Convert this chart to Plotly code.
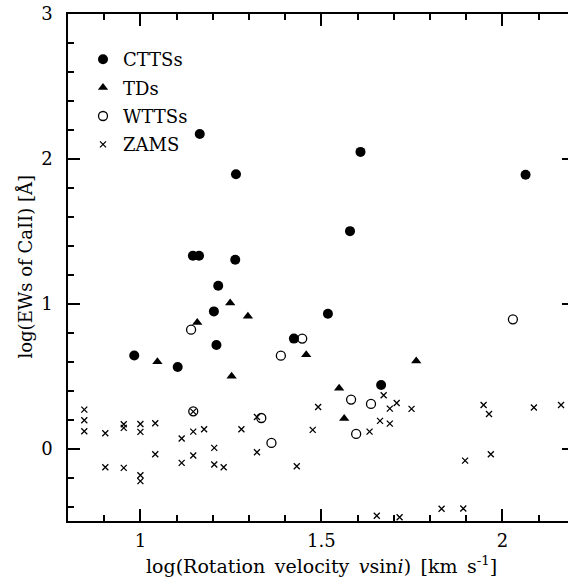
import plotly.graph_objects as go

# ---- data (log v sini, log EW CaII) ----
ctts_x = [0.983, 1.103, 1.145, 1.162, 1.164, 1.203, 1.210, 1.215, 1.262, 1.264,
          1.424, 1.518, 1.579, 1.608, 1.665, 2.064]
ctts_y = [0.642, 0.563, 1.331, 1.331, 2.172, 0.947, 0.715, 1.124, 1.303, 1.894,
          0.759, 0.931, 1.501, 2.048, 0.439, 1.890]

td_x = [1.047, 1.157, 1.248, 1.252, 1.297, 1.458, 1.549, 1.563, 1.762]
td_y = [0.600, 0.871, 1.005, 0.499, 0.913, 0.648, 0.416, 0.207, 0.605]

wtts_x = [1.140, 1.146, 1.334, 1.362, 1.388, 1.447, 1.582, 1.596, 1.637, 2.029]
wtts_y = [0.821, 0.257, 0.211, 0.039, 0.641, 0.759, 0.338, 0.101, 0.308, 0.892]

zams_x = [0.845, 0.845, 0.845, 0.903, 0.903, 0.954, 0.954, 0.954, 1.000, 1.000,
          1.000, 1.000, 1.041, 1.041, 1.114, 1.114, 1.146, 1.146, 1.146, 1.176,
          1.204, 1.204, 1.230, 1.279, 1.322, 1.322, 1.432, 1.476, 1.491, 1.633,
          1.653, 1.662, 1.672, 1.689, 1.689, 1.708, 1.716, 1.749, 1.832, 1.892,
          1.897, 1.948, 1.963, 1.968, 2.087, 2.162]
zams_y = [0.269, 0.195, 0.119, 0.106, -0.129, 0.168, 0.143, -0.133, 0.170, 0.115,
          -0.184, -0.225, 0.175, -0.039, 0.069, -0.099, 0.117, -0.048, 0.255, 0.133,
          0.005, -0.110, -0.129, 0.133, 0.218, -0.025, -0.122, 0.129, 0.287, 0.117,
          -0.464, 0.191, 0.368, 0.276, 0.172, 0.315, -0.474, 0.274, -0.416, -0.414,
          -0.083, 0.301, 0.239, -0.039, 0.283, 0.301]

x_ticks = [1, 1.5, 2]
x_tick_labels = ["1", "1.5", "2"]
y_ticks = [0, 1, 2, 3]
y_tick_labels = ["0", "1", "2", "3"]

FONT = "DejaVu Serif"
W, H = 568, 585
L, R, T, B = 68, 0, 14, 64

fig = go.Figure()
fig.add_trace(go.Scatter(x=ctts_x, y=ctts_y, mode="markers", name="CTTSs",
                         legendgroup="a",
                         marker=dict(symbol="circle", size=10, color="black")))
fig.add_trace(go.Scatter(x=td_x, y=td_y, mode="markers", name="TDs",
                         legendgroup="b",
                         marker=dict(symbol="triangle-up", size=9, color="black")))
fig.add_trace(go.Scatter(x=wtts_x, y=wtts_y, mode="markers", name="WTTSs",
                         legendgroup="c",
                         marker=dict(symbol="circle-open", size=9, color="black",
                                     line=dict(width=1.3, color="black"))))
fig.add_trace(go.Scatter(x=zams_x, y=zams_y, mode="markers", name="ZAMS",
                         legendgroup="d",
                         marker=dict(symbol="x-thin", size=6, color="black",
                                     line=dict(width=1.3, color="black"))))
# invisible copy on the right-hand axis so that its ticks are drawn
fig.add_trace(go.Scatter(x=ctts_x, y=ctts_y, yaxis="y2", mode="markers",
                         marker=dict(opacity=0), showlegend=False,
                         hoverinfo="skip"))

plot_w = W - L - R
plot_h = H - T - B
x0 = 0.8
x1 = x0 + plot_w / 362.0

axis_common = dict(ticks="inside", tickcolor="black", tickwidth=1.5,
                   showgrid=False, zeroline=False)

fig.update_layout(
    width=W, height=H,
    margin=dict(l=L, r=R, t=T, b=B, pad=0),
    paper_bgcolor="white", plot_bgcolor="white",
    font=dict(family=FONT, size=18, color="black"),
    showlegend=True,
    legend=dict(x=(83 - L) / plot_w, y=(H - B - 41) / plot_h,
                xanchor="left", yanchor="top",
                bgcolor="rgba(0,0,0,0)", borderwidth=0,
                tracegroupgap=2,
                font=dict(family=FONT, size=18, color="black")),
    xaxis=dict(range=[x0, x1], tickvals=x_ticks, ticktext=x_tick_labels,
               ticklen=12, showline=True, linecolor="black", linewidth=1.5,
               mirror="ticks", ticklabelstandoff=3,
               minor=dict(dtick=0.1, tick0=0, ticklen=6, ticks="inside",
                          tickcolor="black", tickwidth=1.5, showgrid=False),
               **axis_common),
    yaxis=dict(range=[-0.5, 3], tickvals=y_ticks, ticktext=y_tick_labels,
               ticklen=12, showline=True, linecolor="black", linewidth=1.5,
               mirror=False, ticklabelstandoff=10,
               minor=dict(dtick=0.2, tick0=0, ticklen=6, ticks="inside",
                          tickcolor="black", tickwidth=1.5, showgrid=False),
               **axis_common),
    yaxis2=dict(range=[-0.5, 3], overlaying="y", side="right", anchor="x",
                tickvals=y_ticks, ticklen=6, showticklabels=False,
                showline=False, **axis_common),
)

SP = "\u2002"
fig.add_annotation(text=f"log(Rotation{SP}velocity{SP}<i>v</i>sin<i>i</i>){SP}[km{SP}s<sup>-1</sup>]",
                   xref="paper", yref="paper",
                   x=(321 - L) / plot_w, y=-(565 - (H - B)) / plot_h,
                   xanchor="center", yanchor="middle", showarrow=False,
                   font=dict(family=FONT, size=19, color="black"))
fig.add_annotation(text="log(EWs of CaII) [Å]",
                   xref="paper", yref="paper",
                   x=(25 - L) / plot_w, y=(H - B - 267.5) / plot_h,
                   xanchor="center", yanchor="middle", textangle=-90,
                   showarrow=False,
                   font=dict(family=FONT, size=18, color="black"))

fig.write_html("out.html")
